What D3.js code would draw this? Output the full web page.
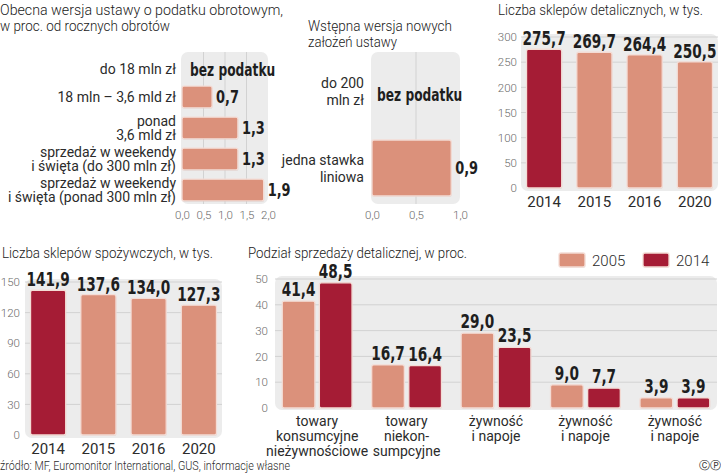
<!DOCTYPE html>
<html>
<head>
<meta charset="utf-8">
<script src="https://cdn.jsdelivr.net/npm/d3@7"></script>
<style>
  body { margin: 0; background: #fff; }
  text { font-family: Roboto, "Noto Sans", sans-serif; fill: #2b2b2b; }
  .title { font-size: 14.5px; font-weight: 300; fill: #1a1a1a; }
  .lbl { font-size: 14px; }
  .tick { font-size: 11.5px; fill: #6a6a6a; font-weight: 300; }
  .val { font-family: "DejaVu Sans Condensed", sans-serif; font-weight: bold; font-size: 17px; fill: #1e1e1e; }
  .year { font-size: 15px; }
</style>
</head>
<body>
<div id="chart"></div>
<script>
// data
var taxLabels = [["do 18 mln zł"], ["18 mln – 3,6 mld zł"], ["ponad", "3,6 mld zł"],
  ["sprzedaż w weekendy", "i święta (do 300 mln zł)"], ["sprzedaż w weekendy", "i święta (ponad 300 mln zł)"]];
var taxRates = [null, 0.7, 1.3, 1.3, 1.9];
var taxTicks = [0, 0.5, 1, 1.5, 2];

var newTaxLabels = [["do 200", "mln zł"], ["jedna stawka", "liniowa"]];
var newTaxRates = [null, 0.9];
var newTaxTicks = [0, 0.5, 1];

var years = ["2014", "2015", "2016", "2020"];
var retailShops = [275.7, 269.7, 264.4, 250.5];
var retailTicks = [0, 50, 100, 150, 200, 250, 300];
var groceryShops = [141.9, 137.6, 134.0, 127.3];
var groceryTicks = [0, 30, 60, 90, 120, 150];

var salesCats = [["towary", "konsumcyjne", "nieżywnościowe"], ["towary", "niekon-", "sumpcyjne"],
  ["żywność", "i napoje"], ["żywność", "i napoje"], ["żywność", "i napoje"]];
var salesYears = ["2005", "2014"];
var sales2005 = [41.4, 16.7, 29.0, 9.0, 3.9];
var sales2014 = [48.5, 16.4, 23.5, 7.7, 3.9];
var salesTicks = [0, 10, 20, 30, 40, 50];

var SALMON = "#db917b", DARK = "#a51c35", BG = "#ececec", GRID = "#d2d2d2";
var fmt = function(v) { return d3.format(".1f")(v).replace(".", ","); };

var svg = d3.select("#chart").append("svg")
  .attr("width", 721).attr("height", 473);

function multiline(g, lines, x, y, lh, anchor, cls) {
  var t = g.append("text").attr("class", cls).attr("text-anchor", anchor);
  lines.forEach(function(s, i) {
    t.append("tspan").attr("x", x).attr("y", y + i * lh).text(s);
  });
  return t;
}

// panel title; widths fitted to the original's narrower typeface
function title(lines, x, y, widths) {
  lines.forEach(function(s, i) {
    svg.append("text").attr("class", "title").attr("x", x).attr("y", y + i * 16)
      .attr("textLength", widths[i]).attr("lengthAdjust", "spacingAndGlyphs").text(s);
  });
}

// bold value label, squeezed horizontally like the condensed face of the original
function value(g, x, y, s, anchor, size) {
  return g.append("text").attr("class", "val").attr("text-anchor", anchor || "start")
    .style("font-size", (size || 17) + "px")
    .attr("transform", "translate(" + x + "," + y + ") scale(0.8,1)").text(s);
}

function bar(g, x, y, w, h, color) {
  g.append("rect")
    .attr("x", x + 0.5).attr("y", y + 1).attr("width", w).attr("height", h)
    .attr("rx", 2).attr("fill", "#000").attr("opacity", 0.08);
  g.append("rect")
    .attr("x", x).attr("y", y).attr("width", w).attr("height", h)
    .attr("rx", 2).attr("fill", color)
    .attr("stroke", "#f4dcd5").attr("stroke-width", 1.3);
}

// ---- horizontal panels (tax) ----
function hPanel(labels, rates, ticks, x0, x1, labelX, lineH) {
  var x = d3.scaleLinear().domain([0, d3.max(ticks)]).range([x0, x1]);
  var y = d3.scaleBand().domain(d3.range(labels.length)).range([52, 204]).paddingInner(0.3).paddingOuter(0.1);
  var g = svg.append("g");
  g.append("rect").attr("x", x0 - 1).attr("y", 52).attr("width", x1 - x0 + 1).attr("height", 152)
    .attr("rx", 7).attr("fill", BG);
  g.selectAll("line.grid").data(ticks.slice(1, -1)).enter().append("line")
    .attr("x1", d => x(d)).attr("x2", d => x(d)).attr("y1", 52).attr("y2", 204)
    .attr("stroke", GRID).attr("stroke-width", 1);

  var axis = d3.axisBottom(x).tickValues(ticks).tickSize(0).tickFormat(fmt);
  var ax = g.append("g").attr("transform", "translate(0,206)").call(axis);
  ax.select(".domain").remove();
  ax.selectAll("text").attr("class", "tick").attr("dy", "0.9em");

  labels.forEach(function(l, i) {
    var cy = y(i) + y.bandwidth() / 2;
    var shift = rates[i] == null ? 3 : 0;
    multiline(g, l, labelX, cy + 5 + shift - (l.length - 1) * lineH / 2, lineH, "end", "lbl");
    if (rates[i] == null) {
      value(g, x0 + 8, cy + 7 + shift, "bez podatku");
    } else {
      bar(g, x(0), y(i), x(rates[i]) - x(0), y.bandwidth(), SALMON);
      value(g, x(rates[i]) + 4, cy + 6, fmt(rates[i]), "start", 18);
    }
  });
  return g;
}

title(["Obecna wersja ustawy o podatku obrotowym,", "w proc. od rocznych obrotów"], 0, 15, [283, 170]);
hPanel(taxLabels, taxRates, taxTicks, 182, 268, 176, 14.5);

title(["Wstępna wersja nowych", "założeń ustawy"], 308, 31, [144, 89]);
var p2 = hPanel(newTaxLabels, newTaxRates, newTaxTicks, 372, 460, 364, 17);
// "bez podatku" is centred in the second panel
p2.selectAll("text.val").filter(function() { return d3.select(this).text() === "bez podatku"; })
  .attr("transform", "translate(377,101) scale(0.8,1)");

// ---- vertical panels (shop counts) ----
function vPanel(values, ticks, left, right, top, bottom, tickX) {
  var yMax = d3.max(ticks);
  var y = d3.scaleLinear().domain([0, yMax]).range([bottom, top]);
  var x = d3.scaleBand().domain(years).range([left - 2, right + 2]).paddingInner(0.3).paddingOuter(0.15);
  var g = svg.append("g");
  g.append("rect").attr("x", left).attr("y", top - 3).attr("width", right - left).attr("height", bottom - top + 6)
    .attr("rx", 7).attr("fill", BG);
  g.selectAll("line.grid").data(ticks.slice(1)).enter().append("line")
    .attr("x1", left).attr("x2", right).attr("y1", d => y(d)).attr("y2", d => y(d))
    .attr("stroke", GRID);

  var ax = g.append("g").attr("transform", "translate(" + tickX + ",0)")
    .call(d3.axisLeft(y).tickValues(ticks).tickSize(0).tickPadding(0));
  ax.select(".domain").remove();
  ax.selectAll("text").attr("class", "tick");

  years.forEach(function(yr, i) {
    bar(g, x(yr), y(values[i]), x.bandwidth(), y(0) - y(values[i]), i === 0 ? DARK : SALMON);
    value(g, x(yr) + x.bandwidth() / 2, y(values[i]) - 4, fmt(values[i]), "middle", 19);
    g.append("text").attr("class", "year").attr("text-anchor", "middle")
      .attr("x", x(yr) + x.bandwidth() / 2).attr("y", bottom + 19).text(yr);
  });
}

title(["Liczba sklepów detalicznych, w tys."], 498, 15, [205]);
vPanel(retailShops, retailTicks, 521, 718, 37, 188, 517);

title(["Liczba sklepów spożywczych, w tys."], 2, 258, [211]);
vPanel(groceryShops, groceryTicks, 25, 222, 282, 435, 20);

// ---- grouped panel (sales split) ----
title(["Podział sprzedaży detalicznej, w proc."], 248, 258, [219]);
(function() {
  var left = 275, right = 717, top = 279, bottom = 408;
  var y = d3.scaleLinear().domain([0, 50]).range([bottom, top]);
  var x = d3.scaleBand().domain(d3.range(salesCats.length)).range([276, 716]).paddingInner(0.22).paddingOuter(0.07);
  var xs = d3.scaleBand().domain(salesYears).range([0, x.bandwidth()]).paddingInner(0.12);
  var series = [sales2005, sales2014];
  var colors = [SALMON, DARK];
  var g = svg.append("g");

  g.append("rect").attr("x", left).attr("y", top - 3).attr("width", right - left).attr("height", bottom - top + 5)
    .attr("rx", 7).attr("fill", BG);
  g.selectAll("line.grid").data(salesTicks.slice(1)).enter().append("line")
    .attr("x1", left).attr("x2", right).attr("y1", d => y(d)).attr("y2", d => y(d))
    .attr("stroke", GRID);

  var ax = g.append("g").attr("transform", "translate(268,0)")
    .call(d3.axisLeft(y).tickValues(salesTicks).tickSize(0).tickPadding(0));
  ax.select(".domain").remove();
  ax.selectAll("text").attr("class", "tick");

  salesCats.forEach(function(c, i) {
    salesYears.forEach(function(yr, j) {
      var v = series[j][i];
      var bx = x(i) + xs(yr);
      bar(g, bx, y(v), xs.bandwidth(), y(0) - y(v), colors[j]);
      value(g, bx + xs.bandwidth() / 2, y(v) - 5, fmt(v), "middle", 19);
    });
    multiline(g, c, x(i) + x.bandwidth() / 2, 426, 15, "middle", "lbl");
  });

  // legend
  var lx = [559, 643];
  salesYears.forEach(function(yr, j) {
    bar(g, lx[j], 253, 26, 14, colors[j]);
    g.append("text").attr("class", "year").style("font-weight", 300)
      .attr("x", lx[j] + 33).attr("y", 266).text(yr);
  });
})();

svg.append("text").attr("class", "lbl").style("font-size", "12px").style("font-weight", 300)
  .attr("x", 0).attr("y", 470).attr("textLength", 290).attr("lengthAdjust", "spacingAndGlyphs")
  .text("źródło: MF, Euromonitor International, GUS, informacje własne");
svg.append("text").style("font-family", "DejaVu Sans").style("font-size", "11px")
  .attr("x", 699).attr("y", 469).text("ⒸⓅ");
</script>
</body>
</html>
